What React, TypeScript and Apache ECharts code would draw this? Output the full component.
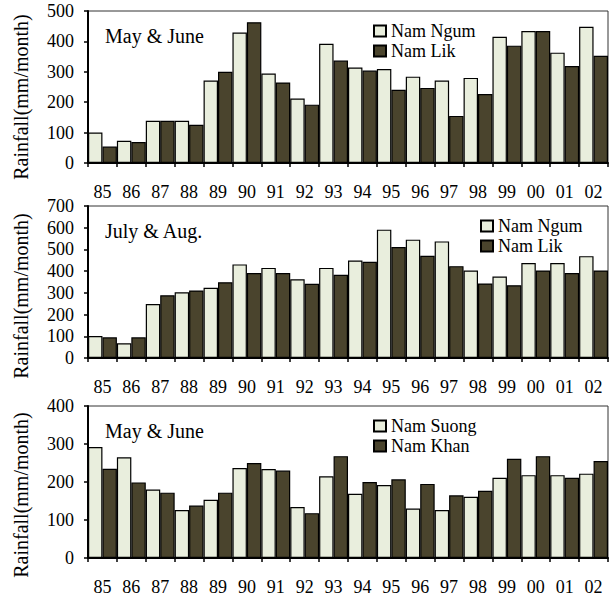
import React, { useEffect, useRef } from "react";
import * as echarts from "echarts";

const years = ["85","86","87","88","89","90","91","92","93","94","95","96","97","98","99","00","01","02"];

const p1NamNgum = [100, 73, 139, 139, 271, 429, 294, 212, 392, 314, 309, 284, 271, 280, 415, 434, 363, 448];
const p1NamLik = [54, 69, 139, 126, 300, 463, 265, 192, 337, 304, 241, 247, 155, 227, 386, 434, 319, 353];

const p2NamNgum = [101, 68, 249, 303, 323, 431, 415, 363, 415, 449, 591, 545, 537, 403, 375, 437, 437, 469];
const p2NamLik = [95, 95, 289, 311, 349, 391, 391, 342, 383, 443, 511, 471, 423, 343, 335, 403, 391, 403];

const p3NamSuong = [292, 265, 180, 126, 153, 237, 234, 134, 215, 169, 192, 130, 126, 161, 211, 218, 218, 222];
const p3NamKhan = [235, 199, 172, 138, 172, 250, 230, 118, 268, 200, 207, 195, 165, 177, 261, 268, 211, 255];

const yMax = [500, 700, 400];
const panelTitles = ["May & June", "July & Aug.", "May & June"];
const yTitle = "Rainfall(mm/month)";

const LIGHT = "#E9EEDD";
const DARK = "#4A442D";
const FONT = "Liberation Serif";

export default function App() {
  const ref = useRef<HTMLDivElement>(null);
  useEffect(() => {
    if (!ref.current) return;
    const chart = echarts.init(ref.current, undefined, { renderer: "svg" });
    const tops = [11, 206, 406];
    const gridH = 152;
    const grids = tops.map((t) => ({
      left: 88,
      width: 520,
      top: t,
      height: gridH,
      show: true,
      borderColor: "#333",
      borderWidth: 1,
      backgroundColor: "transparent",
    }));
    const xAxes = tops.map((_, i) => ({
      type: "category",
      gridIndex: i,
      data: years,
      boundaryGap: true,
      axisLine: { lineStyle: { color: "#000", width: 2 } },
      axisTick: { show: true, length: 4, lineStyle: { color: "#000", width: 1.5 } },
      axisLabel: { fontFamily: FONT, fontSize: 18, color: "#000", margin: 20, interval: 0 },
    }));
    const yAxes = tops.map((_, i) => ({
      type: "value",
      gridIndex: i,
      min: 0,
      max: yMax[i],
      interval: 100,
      splitLine: { show: false },
      axisLine: { show: true, lineStyle: { color: "#000", width: 2 } },
      axisTick: { show: true, length: 4, lineStyle: { color: "#000", width: 1.5 } },
      axisLabel: { fontFamily: FONT, fontSize: 18, color: "#000", margin: 14 },
    }));
    const mk = (name: string, data: number[], idx: number, color: string) => ({
      type: "bar",
      name,
      data,
      xAxisIndex: idx,
      yAxisIndex: idx,
      barGap: "0%",
      barCategoryGap: "0%",
      itemStyle: { color, borderColor: "#000", borderWidth: 1.2 },
    });
    const series = [
      mk("Nam Ngum", p1NamNgum, 0, LIGHT),
      mk("Nam Lik", p1NamLik, 0, DARK),
      mk("Nam Ngum", p2NamNgum, 1, LIGHT),
      mk("Nam Lik", p2NamLik, 1, DARK),
      mk("Nam Suong", p3NamSuong, 2, LIGHT),
      mk("Nam Khan", p3NamKhan, 2, DARK),
    ];
    const legendBase = {
      orient: "vertical",
      icon: "rect",
      itemWidth: 12,
      itemHeight: 11,
      itemGap: 2,
      padding: 0,
      selectedMode: false,
      textStyle: { fontFamily: FONT, fontSize: 18, color: "#000" },
    };
    const legends = [
      { ...legendBase, left: 373, top: 22, data: ["Nam Ngum", "Nam Lik"] },
      { ...legendBase, left: 480, top: 217, data: ["Nam Ngum", "Nam Lik"] },
      { ...legendBase, left: 373, top: 417, data: ["Nam Suong", "Nam Khan"] },
    ];
    const titleY = [38, 233, 433];
    const yTitleY = [97, 296, 495];
    const graphic: any[] = [];
    panelTitles.forEach((t, i) => {
      graphic.push({
        type: "text",
        left: 105,
        top: titleY[i] - 12,
        style: { text: t, fontFamily: FONT, fontSize: 20, fill: "#000" },
      });
      graphic.push({
        type: "text",
        x: 21,
        y: yTitleY[i],
        rotation: Math.PI / 2,
        style: {
          text: yTitle,
          fontFamily: FONT,
          fontSize: 20,
          fill: "#000",
          align: "center",
          verticalAlign: "middle",
        },
      });
    });
    chart.setOption({
      animation: false,
      backgroundColor: "#fff",
      grid: grids,
      xAxis: xAxes,
      yAxis: yAxes,
      series,
      legend: legends,
      graphic,
    });
    return () => chart.dispose();
  }, []);
  return (
    <div
      ref={ref}
      style={{ position: "absolute", left: 0, top: 0, width: 612, height: 601 }}
    />
  );
}
